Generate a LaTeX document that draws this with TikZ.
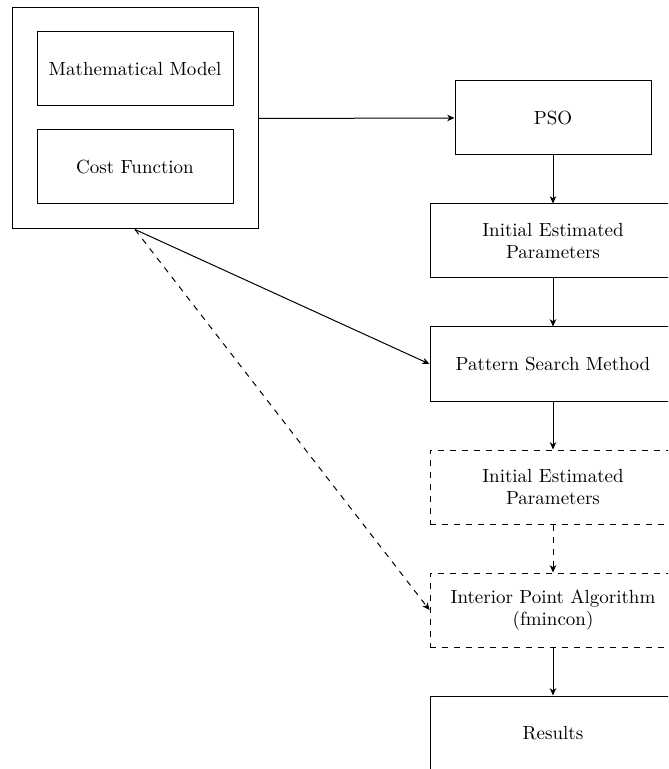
\documentclass[tikz,border=0pt]{standalone}
\usetikzlibrary{arrows.meta}
\begin{document}
\begin{tikzpicture}[x=0.5pt,y=-0.5pt,
  font=\fontsize{9.5}{11}\selectfont,
  blk/.style={draw,line width=0.5pt,inner sep=0pt,align=center,minimum height=37pt},
  narrow/.style={blk,minimum width=98pt},
  wide/.style={blk,minimum width=123pt,text width=118pt},
  dashedblk/.style={wide,dashed},
  flow/.style={-{Stealth[length=3.6pt,width=3.2pt,inset=1pt]},line width=0.5pt}]
\clip (0,0) rectangle (668,769);
% model group on the left
\node[draw,line width=0.5pt,minimum width=123pt,minimum height=110.5pt,inner sep=0pt] (grp) at (135,118.5) {};
\node[narrow] (mm) at (135,69) {Mathematical Model};
\node[narrow] (cf) at (135,167) {Cost Function};
% optimisation chain on the right
\node[narrow] (pso) at (553,118) {PSO};
\node[wide] (iep1) at (553,241) {Initial Estimated\\Parameters};
\node[wide] (psm) at (553,364) {Pattern Search Method};
\node[dashedblk] (iep2) at (553,487) {Initial Estimated\\Parameters};
\node[dashedblk] (ipa) at (553,610) {Interior Point Algorithm\\(fmincon)};
\node[wide] (res) at (553,733) {Results};
% connectors
\draw[flow] (grp.east) -- (pso.west);
\draw[flow] (pso) -- (iep1);
\draw[flow] (iep1) -- (psm);
\draw[flow] (psm) -- (iep2);
\draw[flow,dashed] (iep2) -- (ipa);
\draw[flow] (ipa) -- (res);
\draw[flow] (grp.south) -- (psm.west);
\draw[flow,dashed] (grp.south) -- (ipa.west);
\end{tikzpicture}
\end{document}
